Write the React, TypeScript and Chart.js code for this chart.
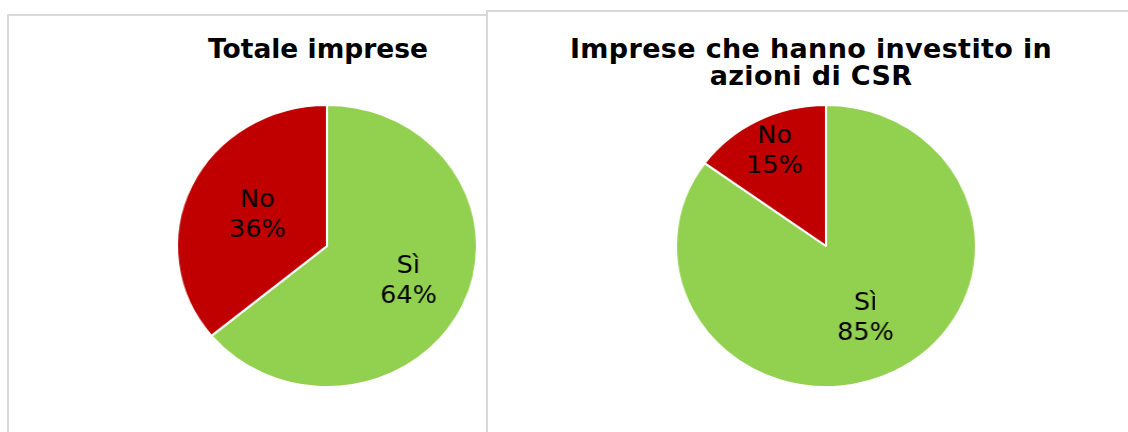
import React, { useEffect, useRef } from "react";
import { Chart, registerables } from "chart.js";

Chart.register(...registerables);

// ---- data ----
const categories = ["Sì", "No"];
const totaleValues = [64, 36];
const csrValues = [85, 15];
const titleTotale = ["Totale imprese"];
const titleCsr = ["Imprese che hanno investito in", "azioni di CSR"];
const sliceColors = ["#92D050", "#C00000"];

function makeLabelPlugin(radii: number[]) {
  return {
    id: "sliceLabels",
    afterDatasetsDraw(chart: any) {
      const ctx = chart.ctx;
      const values = chart.data.datasets[0].data as number[];
      const total = values.reduce((a: number, b: number) => a + b, 0);
      const meta = chart.getDatasetMeta(0);
      ctx.save();
      ctx.font = '24px "DejaVu Sans"';
      ctx.fillStyle = "#000000";
      ctx.textAlign = "center";
      ctx.textBaseline = "middle";
      meta.data.forEach((arc: any, i: number) => {
        const p = arc.getProps(["x", "y", "startAngle", "endAngle", "outerRadius"], true);
        const mid = (p.startAngle + p.endAngle) / 2;
        const r = p.outerRadius * radii[i];
        const cx = p.x + Math.cos(mid) * r;
        const cy = p.y + Math.sin(mid) * r;
        ctx.fillText(String(chart.data.labels[i]), cx, cy - 15);
        ctx.fillText(`${Math.round((values[i] / total) * 100)}%`, cx, cy + 15);
      });
      ctx.restore();
    },
  };
}

function PieCanvas(props: { values: number[]; radii: number[]; left: number; top: number }) {
  const ref = useRef<HTMLCanvasElement>(null);
  useEffect(() => {
    const chart = new Chart(ref.current!, {
      type: "pie",
      data: {
        labels: categories,
        datasets: [
          {
            data: props.values,
            backgroundColor: sliceColors,
            borderColor: "#ffffff",
            borderWidth: 2,
            hoverOffset: 0,
            offset: 0,
          } as any,
        ],
      },
      options: {
        responsive: false,
        animation: false,
        events: [],
        layout: { padding: 8 },
        plugins: {
          legend: { display: false },
          tooltip: { enabled: false },
          title: { display: false },
        },
      },
      plugins: [makeLabelPlugin(props.radii)],
    });
    return () => chart.destroy();
  }, []);
  return (
    <canvas
      ref={ref}
      width={300}
      height={300}
      style={{
        position: "absolute",
        left: props.left,
        top: props.top,
        width: 300,
        height: 300,
        transform: "scaleX(1.064)",
        transformOrigin: "150px 150px",
      }}
    />
  );
}

export default function App() {
  const titleBase: React.CSSProperties = {
    position: "absolute",
    textAlign: "center",
    fontFamily: '"DejaVu Sans", Verdana, sans-serif',
    fontWeight: "bold",
    color: "#000",
    whiteSpace: "nowrap",
  };
  return (
    <div
      style={{
        position: "absolute",
        left: 0,
        top: 0,
        width: 1128,
        height: 432,
        overflow: "hidden",
        background: "#ffffff",
      }}
    >
      <div
        style={{
          position: "absolute",
          left: 7,
          top: 14,
          width: 500,
          height: 440,
          border: "2px solid #d9d9d9",
          boxSizing: "border-box",
          background: "#fff",
        }}
      />
      <div style={{ ...titleBase, left: 118, top: 36, width: 400, fontSize: 26.5, lineHeight: "26.5px" }}>
        {titleTotale.map((t, i) => (
          <div key={i}>{t}</div>
        ))}
      </div>
      <PieCanvas values={totaleValues} radii={[0.6, 0.51]} left={177} top={96} />

      <div
        style={{
          position: "absolute",
          left: 486,
          top: 10,
          width: 660,
          height: 440,
          border: "2px solid #d9d9d9",
          boxSizing: "border-box",
          background: "#fff",
        }}
      />
      <div
        style={{
          ...titleBase,
          left: 561,
          top: 35,
          width: 500,
          fontSize: 27,
          lineHeight: "27px",
          letterSpacing: "0.35px",
        }}
      >
        {titleCsr.map((t, i) => (
          <div key={i}>{t}</div>
        ))}
      </div>
      <PieCanvas values={csrValues} radii={[0.58, 0.75]} left={676} top={96} />
    </div>
  );
}
